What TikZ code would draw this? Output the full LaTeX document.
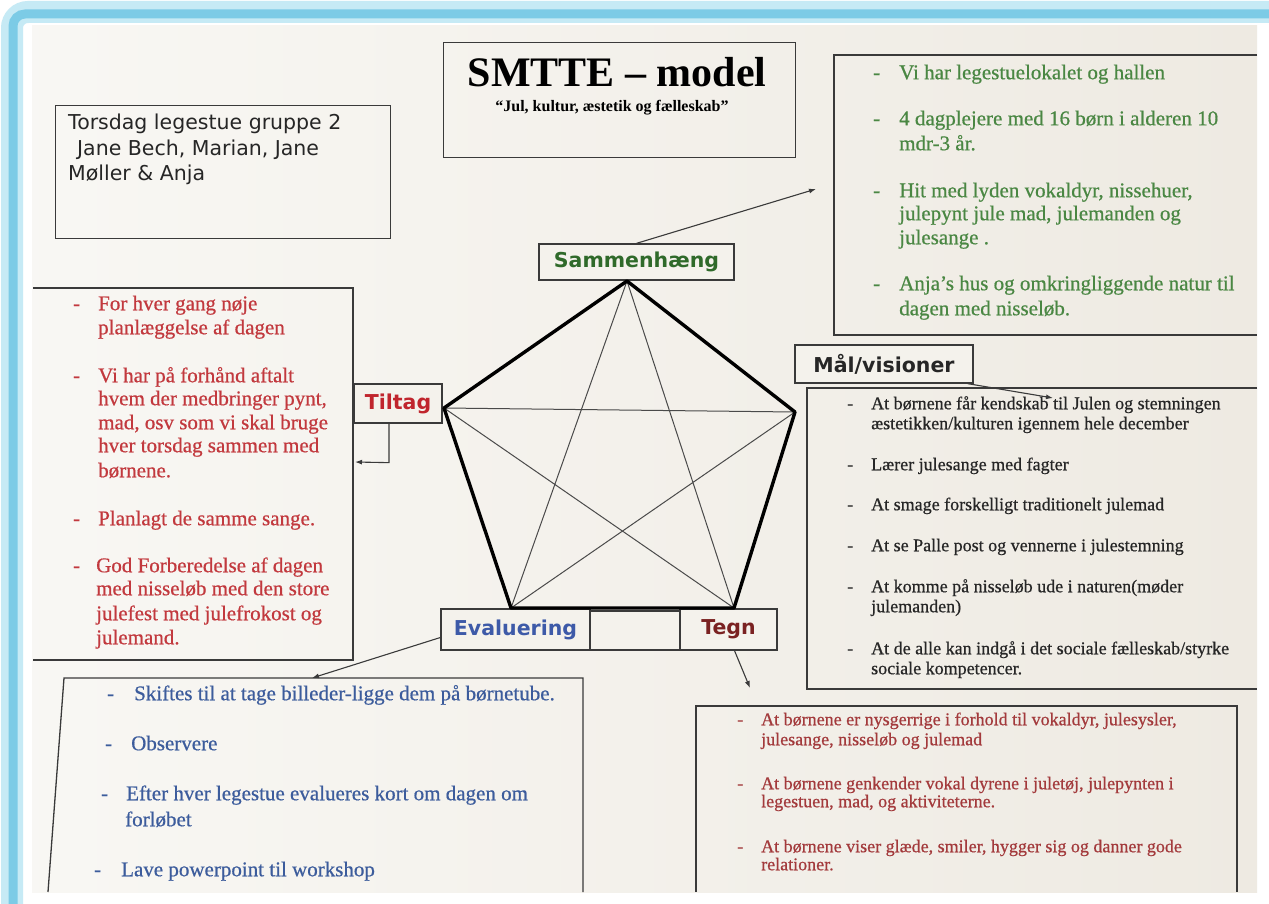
\documentclass[tikz,border=0pt]{standalone}
\usepackage{fontspec}
\setmainfont{Liberation Serif}
\newfontfamily\verd{DejaVu Sans}
\newfontfamily\bodyf[FakeBold=0.6]{Liberation Serif}
\usetikzlibrary{arrows.meta}
\definecolor{paper}{HTML}{F4F2EC}
\definecolor{paperdark}{HTML}{EEEAE2}
\definecolor{framecol}{HTML}{7CCBE6}
\definecolor{framelight}{HTML}{C6EAF5}
\definecolor{boxline}{HTML}{3A3A3A}
\definecolor{gtext}{HTML}{4A8743}
\definecolor{glab}{HTML}{2F6A2A}
\definecolor{rtext}{HTML}{C2393E}
\definecolor{rlab}{HTML}{C0252D}
\definecolor{btext}{HTML}{3C5C9C}
\definecolor{blab}{HTML}{3D5AA8}
\definecolor{ttext}{HTML}{A33A3C}
\definecolor{tlab}{HTML}{7A2222}
\definecolor{mtext}{HTML}{262626}
\definecolor{diag}{HTML}{4A4A4A}
\begin{document}
\begin{tikzpicture}[x=1pt,y=-1pt,
  bx/.style={draw=boxline, line width=1.3pt},
  lab/.style={draw=boxline, line width=1.3pt, fill=paper, inner sep=0pt,
    font=\verd\bfseries\fontsize{20.5}{24}\selectfont},
  ln/.style={anchor=west, inner sep=0pt, text height=0.7em, text depth=0.25em},
  gr/.style={ln, text=gtext, font=\bodyf\fontsize{21}{24}\selectfont},
  rd/.style={ln, text=rtext, font=\bodyf\fontsize{21}{24}\selectfont},
  bl/.style={ln, text=btext, font=\bodyf\fontsize{21}{24}\selectfont},
  ml/.style={ln, text=mtext, font=\bodyf\fontsize{18}{21}\selectfont},
  tg/.style={ln, text=ttext, font=\bodyf\fontsize{18}{21}\selectfont},
  inf/.style={ln, text=black!85, font=\verd\fontsize{20.5}{25}\selectfont},
  arr/.style={draw=boxline, line width=1.1pt, -{Latex[length=7pt,width=5pt]}}]
\useasboundingbox (0,0) rectangle (1269,904);
\fill[white] (0,0) rectangle (1269,904);
% frame
\draw[framelight, line width=22pt, rounded corners=16pt] (12,930) -- (12,12) -- (1300,12);
\draw[framecol, line width=9pt, rounded corners=12pt] (13,930) -- (13,14) -- (1300,14);
% paper
\shade[left color=paper!60!white, right color=paperdark] (32,26) rectangle (1257,892);

% info box
\node[bx, anchor=north west, minimum width=335pt, minimum height=133pt, inner sep=0pt] (info) at (55,105) {};
\node[inf] (i1) at (68,127) {Torsdag legestue gruppe 2};
\node[inf] (i2) at (77,153) {Jane Bech, Marian, Jane};
\node[inf] (i3) at (68,178) {Møller \& Anja};

% title box
\node[bx, anchor=north west, minimum width=352pt, minimum height=115pt, inner sep=0pt] (titlebox) at (443,42) {};
\node[inner sep=0pt, font=\bfseries\fontsize{42}{44}\selectfont] (title) at (617,72) {SMTTE – model};
\node[inner sep=0pt, font=\bfseries\fontsize{16}{18}\selectfont] (subtitle) at (612,108) {“Jul, kultur, æstetik og fælleskab”};

% green box (open right)
\draw[bx] (1257,55) -- (834,55) -- (834,335) -- (1257,335);
\coordinate (gin) at (816,189);
\foreach \yy in {77,123,195,288} \node[gr] at (873,\yy) {-};
\node[gr] (g1) at (899,77) {Vi har legestuelokalet og hallen};
\node[gr] (g2) at (899,123) {4 dagplejere med 16 børn i alderen 10};
\node[gr] (g3) at (899,148) {mdr-3 år.};
\node[gr] (g4) at (899,195) {Hit med lyden vokaldyr, nissehuer,};
\node[gr] (g5) at (899,218) {julepynt jule mad, julemanden og};
\node[gr] (g6) at (899,242) {julesange .};
\node[gr] (g7) at (899,288) {Anja’s hus og omkringliggende natur til};
\node[gr] (g8) at (899,313) {dagen med nisseløb.};

% red box (open left)
\draw[bx] (33,288) -- (353,288) -- (353,660) -- (33,660);
\coordinate (rin) at (355,462);
\foreach \yy in {308,380,523,570} \node[rd] at (73,\yy) {-};
\node[rd] (r1) at (98,308) {For hver gang nøje};
\node[rd] (r2) at (98,332) {planlæggelse af dagen};
\node[rd] (r3) at (98,380) {Vi har på forhånd aftalt};
\node[rd] (r4) at (98,403) {hvem der medbringer pynt,};
\node[rd] (r5) at (98,427) {mad, osv som vi skal bruge};
\node[rd] (r6) at (98,450) {hver torsdag sammen med};
\node[rd] (r7) at (98,475) {børnene.};
\node[rd] (r8) at (98,523) {Planlagt de samme sange.};
\node[rd] (r9) at (96,570) {God Forberedelse af dagen};
\node[rd] (r10) at (96,593) {med nisseløb med den store};
\node[rd] (r11) at (96,618) {julefest med julefrokost og};
\node[rd] (r12) at (96,642) {julemand.};

% maal box (open right)
\draw[bx] (1257,388) -- (807,388) -- (807,689) -- (1257,689);
\coordinate (malin) at (1053,398);
\foreach \yy in {407,468,508,549,590,652} \node[ml] at (847,\yy) {-};
\node[ml] (m1) at (871,407) {At børnene får kendskab til Julen og stemningen};
\node[ml] (m2) at (871,427) {æstetikken/kulturen igennem hele december};
\node[ml] (m3) at (871,468) {Lærer julesange med fagter};
\node[ml] (m4) at (871,508) {At smage forskelligt traditionelt julemad};
\node[ml] (m5) at (871,549) {At se Palle post og vennerne i julestemning};
\node[ml] (m6) at (871,590) {At komme på nisseløb ude i naturen(møder};
\node[ml] (m7) at (871,610) {julemanden)};
\node[ml] (m8) at (871,652) {At de alle kan indgå i det sociale fælleskab/styrke};
\node[ml] (m9) at (871,672) {sociale kompetencer.};

% blue box (open bottom)
\draw[bx] (48,892) -- (64,678) -- (583,678) -- (583,892);
\coordinate (bin) at (312,678);
\node[bl] at (107,698) {-};
\node[bl] at (105,748) {-};
\node[bl] at (101,798) {-};
\node[bl] at (94,874) {-};
\node[bl] (b1) at (134,698) {Skiftes til at tage billeder-ligge dem på børnetube.};
\node[bl] (b2) at (131,748) {Observere};
\node[bl] (b3) at (126,798) {Efter hver legestue evalueres kort om dagen om};
\node[bl] (b4) at (125,824) {forløbet};
\node[bl] (b5) at (121,874) {Lave powerpoint til workshop};

% tegn box (open bottom)
\draw[bx] (696,892) -- (696,706) -- (1237,706) -- (1237,892);
\coordinate (tin) at (750,688);
\foreach \yy in {723,787,850} \node[tg] at (737,\yy) {-};
\node[tg] (t1) at (761,723) {At børnene er nysgerrige i forhold til vokaldyr, julesysler,};
\node[tg] (t2) at (761,743) {julesange, nisseløb og julemad};
\node[tg] (t3) at (761,787) {At børnene genkender vokal dyrene i juletøj, julepynten i};
\node[tg] (t4) at (761,805) {legestuen, mad, og aktiviteterne.};
\node[tg] (t5) at (761,850) {At børnene viser glæde, smiler, hygger sig og danner gode};
\node[tg] (t6) at (761,868) {relationer.};

% labels
\node[lab, text=glab, minimum width=195pt, minimum height=36pt] (sam) at (636.5,262) {Sammenhæng};
\node[lab, text=rlab, minimum width=88pt, minimum height=39pt] (til) at (398,403.5) {Tiltag};
\node[lab, text=mtext, minimum width=178pt, minimum height=38pt] (mal) at (884,364) {Mål/visioner};
\node[lab, text=blab, minimum width=149pt, minimum height=41pt] (eva) at (515.5,629.5) {Evaluering};
\node[lab, minimum width=90pt, minimum height=39pt] (mid) at (635,630.5) {};
\node[lab, text=tlab, minimum width=97pt, minimum height=41pt] (teg) at (728.5,629.5) {Tegn};

% pentagon
\coordinate (pT) at (627,281);
\coordinate (pL) at (444,408);
\coordinate (pR) at (795,412);
\coordinate (pBL) at (511,608);
\coordinate (pBR) at (734,608);
\draw[diag, line width=1pt] (pT) -- (pBL) (pT) -- (pBR) (pL) -- (pR) (pL) -- (pBR) (pR) -- (pBL);
\draw[black, line width=3.4pt, line join=round] (pT) -- (pR) -- (pBR) -- (pBL) -- (pL) -- cycle;

% connectors
\draw[arr] (sam.north) -- (gin);
\draw[arr] ([xshift=-9pt]til.south) -- ++(0,39) -- (rin);
\draw[arr] ([xshift=-6pt]mal.south east) -- (malin);
\draw[arr] ([yshift=-8pt]eva.west) -- (bin);
\draw[arr] ([xshift=6pt]teg.south) -- (tin);
\end{tikzpicture}
\end{document}
